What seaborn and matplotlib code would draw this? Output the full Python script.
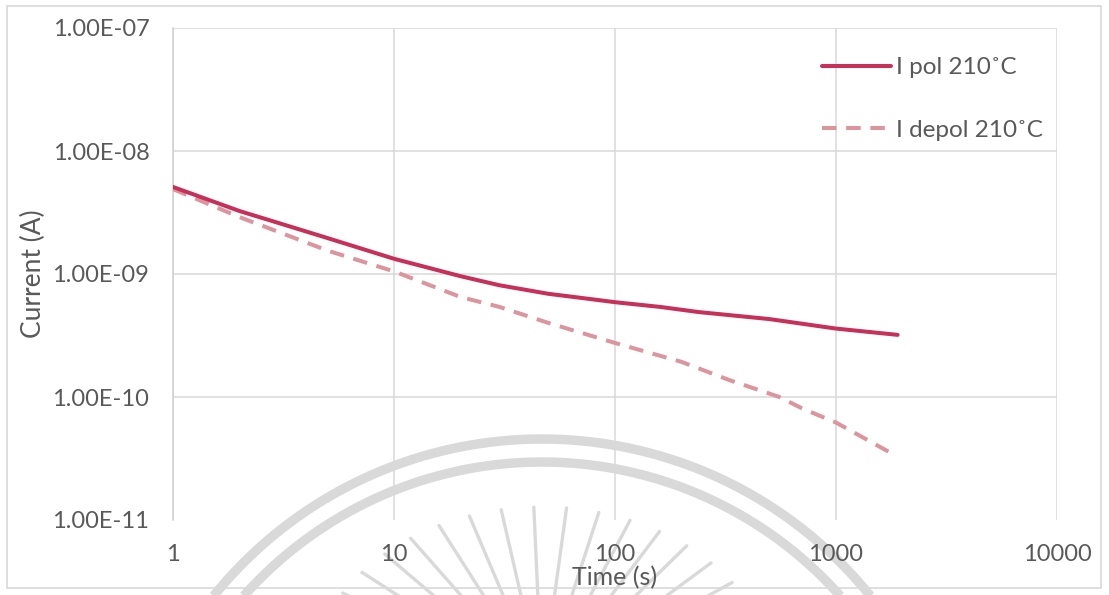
import numpy as np
import pandas as pd
import matplotlib
matplotlib.use("Agg")
import matplotlib.pyplot as plt
from matplotlib.ticker import FuncFormatter, FixedLocator, NullLocator
from matplotlib.lines import Line2D
from matplotlib.patches import Rectangle
import seaborn as sns

# Polarisation / depolarisation current at 210 °C
time_pol = [1, 2, 3, 5, 10, 20, 30, 50, 70, 100, 160, 240, 500, 1000, 1900]
current_pol = [5.1e-9, 3.25e-9, 2.6e-9, 1.96e-9, 1.33e-9, 9.6e-10, 8.1e-10,
               6.9e-10, 6.4e-10, 5.9e-10, 5.4e-10, 4.9e-10, 4.3e-10,
               3.6e-10, 3.2e-10]

time_depol = [1, 2, 3, 5, 10, 20, 30, 50, 100, 200, 330, 555, 700, 1000, 1750]
current_depol = [4.9e-9, 2.9e-9, 2.2e-9, 1.55e-9, 1.05e-9, 6.5e-10, 5.4e-10,
                 4.0e-10, 2.75e-10, 1.93e-10, 1.37e-10, 1.0e-10, 8.1e-11,
                 6.2e-11, 3.55e-11]

label_pol = "I pol 210˚C"
label_depol = "I depol 210˚C"

x_ticks = [1, 10, 100, 1000, 10000]
y_ticks = [1e-11, 1e-10, 1e-9, 1e-8, 1e-7]

sns.set_style("white")
plt.rcParams["font.family"] = ["Lato", "DejaVu Sans"]

W, H = 1109, 595
fig = plt.figure(figsize=(W / 100, H / 100), dpi=100, facecolor="white")


def px(x, y):
    return np.asarray(x) / W, 1 - np.asarray(y) / H


# faint seal watermark behind the chart
wm = "#d9d9d9"
cx, cy = 542, 861
for r in (422, 399):
    a = np.linspace(0, np.pi, 400)
    fx, fy = px(cx + r * np.cos(a), cy - r * np.sin(a))
    fig.add_artist(Line2D(fx, fy, color=wm, lw=6.8, zorder=0,
                          solid_capstyle="butt"))
rcx, rcy = 542, 690
for ang in np.deg2rad(np.arange(12, 169, 8)):
    xs = np.array([rcx + 120 * np.cos(ang), rcx + 235 * np.cos(ang)])
    ys = np.array([rcy - 95 * np.sin(ang), rcy - 183 * np.sin(ang)])
    fx, fy = px(xs, ys)
    fig.add_artist(Line2D(fx, fy, color=wm, lw=2.4, zorder=0))

# outer chart frame
fig.add_artist(Rectangle(px(7, 588), (1101 - 7) / W, (588 - 6) / H,
                         fill=False, edgecolor="#d9d9d9", lw=1.2, zorder=0))

ax = fig.add_axes([173 / W, 1 - 520 / H, (1057 - 173) / W, (520 - 28) / H])
ax.set_facecolor("none")

df_pol = pd.DataFrame({"t": time_pol, "I": current_pol})
df_depol = pd.DataFrame({"t": time_depol, "I": current_depol})

sns.lineplot(data=df_pol, x="t", y="I", ax=ax, color="#c8305c", lw=2.9,
             label=label_pol, zorder=4)
sns.lineplot(data=df_depol, x="t", y="I", ax=ax, color="#dc949e", lw=2.9,
             label=label_depol, zorder=3)
ax.lines[1].set_dashes([3.6, 2.4])

ax.set_xscale("log")
ax.set_yscale("log")
ax.set_xlim(1, 10000)
ax.set_ylim(1e-11, 1e-7)
ax.xaxis.set_major_locator(FixedLocator(x_ticks))
ax.yaxis.set_major_locator(FixedLocator(y_ticks))
ax.xaxis.set_minor_locator(NullLocator())
ax.yaxis.set_minor_locator(NullLocator())
ax.xaxis.set_major_formatter(FuncFormatter(lambda v, p: f"{v:g}"))
ax.yaxis.set_major_formatter(FuncFormatter(lambda v, p: f"{v:.2E}"))

ax.grid(True, which="major", color="#d9d9d9", lw=1.1)
ax.get_ygridlines()[0].set_visible(False)
for s in ("top", "right", "bottom"):
    ax.spines[s].set_visible(False)
ax.spines["left"].set_color("#d0d0d0")
ax.spines["left"].set_linewidth(1.1)

text_c = "#595959"
ax.tick_params(axis="both", length=0, labelsize=17, colors=text_c)
ax.tick_params(axis="x", pad=17)
ax.tick_params(axis="y", pad=17)
ax.set_xlabel("Time (s)", fontsize=18, color=text_c, labelpad=1)
ax.set_ylabel("Current (A)", fontsize=19, color=text_c, labelpad=5)

leg = ax.legend(loc="upper right", bbox_to_anchor=(1.003, 0.975), frameon=False,
                fontsize=17.5, handlelength=2.85, handletextpad=0.2,
                labelspacing=1.7, borderaxespad=0.3)
for t in leg.get_texts():
    t.set_color(text_c)

fig.savefig("out.png", dpi=100, facecolor="white")
